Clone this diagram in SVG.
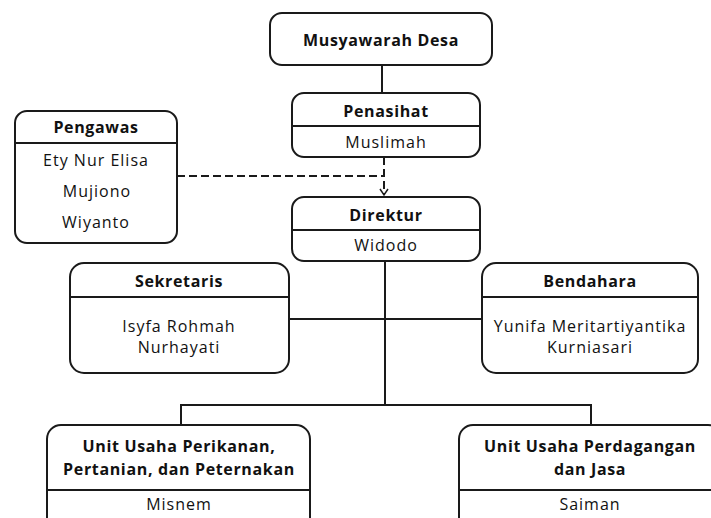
<svg xmlns="http://www.w3.org/2000/svg" width="711" height="518" viewBox="0 0 711 518">
<style>
.box{fill:#fff;stroke:#1a1a1a;stroke-width:2}
.div{stroke:#1a1a1a;stroke-width:2}
.ln{stroke:#1a1a1a;stroke-width:2;fill:none}
.dash{stroke:#1a1a1a;stroke-width:2;fill:none;stroke-dasharray:8 4}
.h{font-family:"Open Sans","DejaVu Sans",sans-serif;font-weight:bold;font-size:16px;letter-spacing:0.65px;fill:#111;text-anchor:middle}
.t{font-family:"Open Sans","DejaVu Sans",sans-serif;font-size:16px;letter-spacing:1px;fill:#111;text-anchor:middle}
</style>
<defs>
<marker id="arr" markerWidth="10" markerHeight="10" refX="8" refY="5" orient="auto" markerUnits="userSpaceOnUse">
<path d="M2,1 L8,5 L2,9" fill="none" stroke="#1a1a1a" stroke-width="1.5"/>
</marker>
</defs>
<g id="connectors">
<line class="ln" x1="382" y1="65" x2="382" y2="93"/>
<line class="dash" x1="177" y1="176" x2="384" y2="176"/>
<line class="dash" x1="384" y1="157" x2="384" y2="195" marker-end="url(#arr)"/>
<line class="ln" x1="385" y1="261" x2="385" y2="405"/>
<line class="ln" x1="289" y1="319" x2="482" y2="319"/>
<polyline class="ln" points="181,425 181,405 591,405 591,425"/>
</g>
<g id="musyawarah">
<rect class="box" x="270" y="13" width="222" height="52" rx="12"/>
<text class="h" x="381" y="46">Musyawarah Desa</text>
</g>
<g id="penasihat">
<rect class="box" x="292" y="93" width="188" height="64" rx="12"/>
<line class="div" x1="292" y1="126" x2="480" y2="126"/>
<text class="h" x="386" y="117">Penasihat</text>
<text class="t" x="386" y="148">Muslimah</text>
</g>
<g id="pengawas">
<rect class="box" x="15" y="111" width="162" height="132" rx="12"/>
<line class="div" x1="15" y1="143" x2="177" y2="143"/>
<text class="h" x="96" y="133">Pengawas</text>
<text class="t" x="96" y="166">Ety Nur Elisa</text>
<text class="t" x="97" y="197">Mujiono</text>
<text class="t" x="96" y="228">Wiyanto</text>
</g>
<g id="direktur">
<rect class="box" x="292" y="197" width="188" height="64" rx="12"/>
<line class="div" x1="292" y1="230" x2="480" y2="230"/>
<text class="h" x="386" y="221">Direktur</text>
<text class="t" x="386" y="251">Widodo</text>
</g>
<g id="sekretaris">
<rect class="box" x="70" y="263" width="219" height="110" rx="14"/>
<line class="div" x1="70" y1="297" x2="289" y2="297"/>
<text class="h" x="179" y="287">Sekretaris</text>
<text class="t" x="179" y="332">Isyfa Rohmah</text>
<text class="t" x="179" y="353">Nurhayati</text>
</g>
<g id="bendahara">
<rect class="box" x="482" y="263" width="216" height="110" rx="14"/>
<line class="div" x1="482" y1="297" x2="698" y2="297"/>
<text class="h" x="590" y="287">Bendahara</text>
<text class="t" x="590" y="332">Yunifa Meritartiyantika</text>
<text class="t" x="590" y="353">Kurniasari</text>
</g>
<g id="unit1">
<rect class="box" x="47" y="425" width="263" height="110" rx="14"/>
<line class="div" x1="47" y1="490" x2="310" y2="490"/>
<text class="h" x="179" y="452">Unit Usaha Perikanan,</text>
<text class="h" x="179" y="475">Pertanian, dan Peternakan</text>
<text class="t" x="179" y="510">Misnem</text>
</g>
<g id="unit2">
<rect class="box" x="459" y="425" width="263" height="110" rx="14"/>
<line class="div" x1="459" y1="490" x2="722" y2="490"/>
<text class="h" x="590" y="452">Unit Usaha Perdagangan</text>
<text class="h" x="590" y="475">dan Jasa</text>
<text class="t" x="590" y="510">Saiman</text>
</g>
</svg>
